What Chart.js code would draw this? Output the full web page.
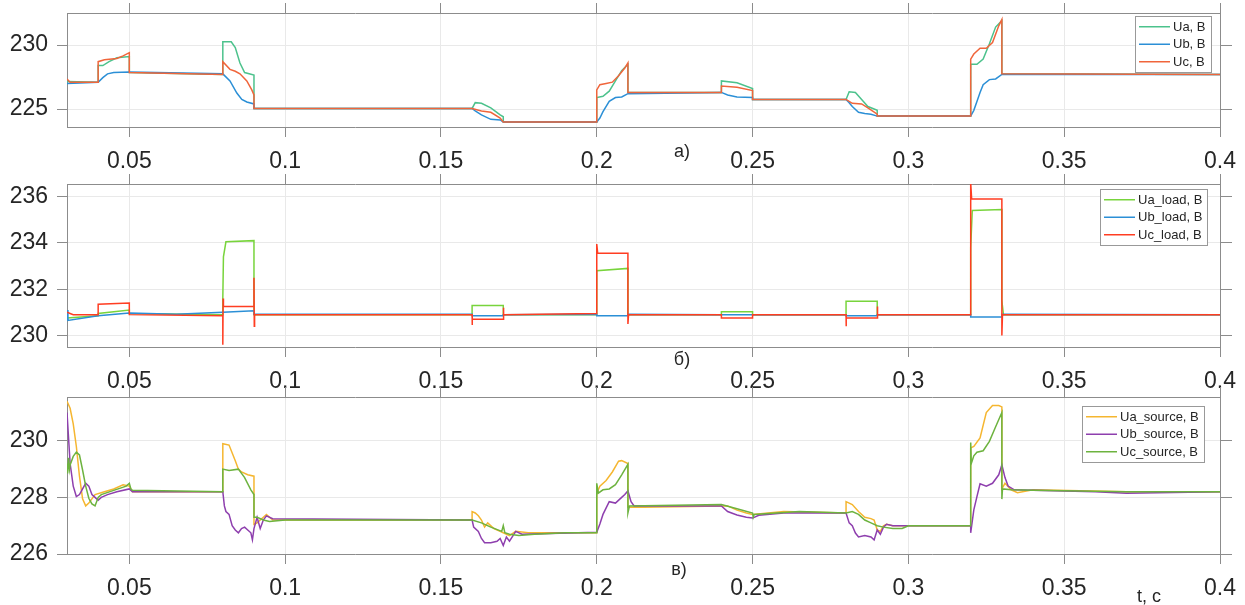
<!DOCTYPE html>
<html>
<head>
<meta charset="utf-8">
<title>Voltages</title>
<script src="https://cdn.jsdelivr.net/npm/chart.js@4/dist/chart.umd.min.js"></script>
<style>
    body { margin: 0; background: #fff; overflow: hidden; }
    .layer { position: absolute; left: 0; top: 0; }
</style>
</head>
<body>
<canvas id="panel-a" class="layer" width="1245" height="605"></canvas>
<canvas id="panel-b" class="layer" width="1245" height="605"></canvas>
<canvas id="panel-c" class="layer" width="1245" height="605"></canvas>
<script>
/**
 * Three stacked voltage panels: a) Ua/Ub/Uc, б) load, в) source
 */

// Shared time axis
const tMin = 0.03;
const tMax = 0.4;
const tStep = 0.05;

// Panel a) points as [t, value]
const uaPoints = [[0.03,227.15],[0.04,227.1],[0.04,228.4],[0.0415,228.4],[0.0435,228.7],[0.046,229.0],[0.05,229.1],[0.05,227.85],
    [0.08,227.7],[0.08,230.25],[0.0827,230.25],[0.084,229.8],[0.0855,228.6],[0.087,227.85],[0.09,227.65],[0.09,225.05],
    [0.16,225.05],[0.161,225.5],[0.163,225.45],[0.166,225.1],[0.169,224.55],[0.17,224.4],[0.17,224.0],
    [0.2,224.0],[0.2,225.9],[0.202,226.0],[0.204,226.4],[0.206,227.2],[0.208,228.0],[0.21,228.5],[0.21,226.3],
    [0.24,226.3],[0.24,227.2],[0.245,227.05],[0.25,226.6],[0.25,225.75],
    [0.28,225.75],[0.281,226.35],[0.283,226.3],[0.285,225.75],[0.287,225.2],[0.289,225.0],[0.29,224.9],[0.29,224.45],
    [0.32,224.45],[0.32,228.5],[0.322,228.5],[0.324,228.9],[0.326,230.1],[0.328,231.4],[0.33,231.9],[0.33,227.75],[0.4,227.7]];
const ubPoints = [[0.03,227.0],[0.04,227.1],[0.0415,227.45],[0.043,227.75],[0.045,227.85],[0.05,227.9],
    [0.08,227.75],[0.0823,227.2],[0.0845,226.25],[0.0861,225.75],[0.0877,225.55],[0.09,225.4],[0.09,225.05],
    [0.16,225.05],[0.161,224.85],[0.163,224.55],[0.166,224.2],[0.169,224.15],[0.17,224.0],
    [0.2,224.0],[0.201,224.3],[0.202,224.8],[0.204,225.6],[0.206,225.9],[0.208,225.95],[0.21,226.2],
    [0.24,226.3],[0.242,226.1],[0.245,225.95],[0.25,225.9],[0.25,225.75],
    [0.28,225.75],[0.281,225.5],[0.282,225.2],[0.284,224.75],[0.286,224.65],[0.288,224.6],[0.29,224.45],
    [0.32,224.45],[0.321,224.9],[0.322,225.6],[0.323,226.3],[0.324,226.9],[0.326,227.3],[0.328,227.35],[0.33,227.7],[0.4,227.7]];
const ucPoints = [[0.03,227.35],[0.031,227.1],[0.04,227.1],[0.04,228.7],[0.042,228.85],[0.046,228.95],[0.048,229.15],[0.05,229.4],[0.05,227.85],
    [0.08,227.7],[0.08,228.7],[0.0823,228.1],[0.084,227.95],[0.0855,227.75],[0.0877,227.2],[0.0893,226.5],[0.09,226.1],[0.09,225.05],
    [0.16,225.05],[0.163,224.85],[0.166,224.75],[0.169,224.3],[0.17,224.0],
    [0.2,224.0],[0.2,226.5],[0.201,226.9],[0.203,227.0],[0.205,227.1],[0.207,227.6],[0.209,228.2],[0.21,228.6],[0.21,226.3],
    [0.24,226.3],[0.24,226.8],[0.245,226.7],[0.25,226.45],[0.25,225.75],
    [0.28,225.75],[0.282,225.45],[0.285,225.4],[0.287,225.1],[0.29,224.6],[0.29,224.45],
    [0.32,224.45],[0.32,228.9],[0.321,229.3],[0.323,229.75],[0.325,229.75],[0.327,230.2],[0.329,231.5],[0.33,232.0],[0.33,227.75],[0.4,227.7]];

// Panel б) load voltages
const uaLoadPoints = [[0.03,230.75],[0.04,230.85],[0.04,230.95],[0.05,231.1],[0.05,230.95],
    [0.08,230.9],[0.08,231.6],[0.0802,233.4],[0.081,234.05],[0.09,234.1],[0.09,230.9],
    [0.16,230.9],[0.16,231.3],[0.17,231.3],[0.17,230.9],
    [0.2,230.9],[0.2,232.8],[0.21,232.9],[0.21,230.9],
    [0.24,230.9],[0.24,231.02],[0.25,231.02],[0.25,230.9],
    [0.28,230.9],[0.28,231.48],[0.29,231.48],[0.29,230.9],
    [0.32,230.9],[0.32,233.8],[0.3205,235.4],[0.33,235.45],[0.33,231.5],[0.3305,230.9],[0.4,230.9]];
const ubLoadPoints = [[0.03,231.1],[0.0303,230.65],[0.04,230.85],[0.05,230.97],[0.065,230.92],[0.08,231.0],[0.09,231.07],[0.09,230.92],
    [0.16,230.92],[0.16,230.85],[0.17,230.85],[0.17,230.9],
    [0.2,230.92],[0.2,230.85],[0.21,230.85],[0.21,230.92],
    [0.24,230.9],[0.25,230.9],[0.28,230.9],[0.28,230.85],[0.29,230.85],[0.29,230.9],
    [0.32,230.9],[0.32,230.8],[0.33,230.8],[0.33,230.92],[0.4,230.9]];
const ucLoadPoints = [[0.03,231.0],[0.031,230.95],[0.032,230.9],[0.04,230.9],[0.04,231.35],[0.05,231.4],[0.05,230.9],
    [0.08,230.85],[0.08,229.6],[0.0801,231.6],[0.0802,231.25],[0.09,231.25],[0.09,232.5],[0.0901,230.4],[0.0902,230.9],
    [0.16,230.9],[0.16,230.45],[0.1601,230.7],[0.17,230.7],[0.17,231.2],[0.1702,230.9],
    [0.2,230.95],[0.2,233.95],[0.2003,233.55],[0.21,233.55],[0.21,230.5],[0.2102,230.9],
    [0.24,230.9],[0.24,230.75],[0.25,230.75],[0.25,230.9],
    [0.28,230.9],[0.28,230.4],[0.2801,230.75],[0.29,230.75],[0.29,231.25],[0.2902,230.9],
    [0.32,230.9],[0.32,236.6],[0.3203,235.9],[0.33,235.9],[0.33,230.0],[0.3302,230.9],[0.4,230.9]];

// Panel в) source voltages
const uaSourcePoints = [[0.03,231.4],[0.031,231.15],[0.032,230.6],[0.033,229.8],[0.034,228.75],[0.035,227.95],[0.036,227.7],[0.037,227.8],
    [0.039,228.1],[0.042,228.2],[0.045,228.3],[0.048,228.45],[0.05,228.4],[0.051,228.2],
    [0.08,228.2],[0.08,229.9],[0.082,229.85],[0.084,229.3],[0.085,229.0],[0.086,228.9],[0.088,228.8],[0.09,228.75],[0.09,227.05],
    [0.091,227.1],[0.093,227.3],[0.094,227.4],[0.096,227.2],
    [0.16,227.2],[0.16,227.5],[0.161,227.45],[0.162,227.35],[0.163,227.2],[0.164,226.95],[0.165,227.1],[0.167,226.9],
    [0.169,226.8],[0.17,226.75],[0.172,226.65],[0.174,226.8],[0.178,226.75],
    [0.2,226.75],[0.2,228.15],[0.201,228.4],[0.203,228.6],[0.205,228.9],[0.207,229.28],[0.208,229.3],[0.21,229.2],[0.21,227.65],
    [0.215,227.65],[0.24,227.7],[0.242,227.7],[0.245,227.55],[0.248,227.45],[0.25,227.4],[0.26,227.5],
    [0.28,227.45],[0.28,227.85],[0.282,227.75],[0.284,227.5],[0.286,227.3],[0.288,227.25],[0.289,227.2],[0.29,226.85],
    [0.291,226.8],[0.292,227.0],[0.293,227.05],[0.295,227.0],
    [0.32,227.0],[0.32,229.75],[0.321,229.8],[0.323,230.1],[0.325,231.0],[0.327,231.25],[0.329,231.25],[0.33,231.2],[0.33,228.3],
    [0.331,228.5],[0.333,228.27],[0.335,228.17],[0.34,228.27],[0.37,228.2],[0.4,228.2]];
const ubSourcePoints = [[0.03,231.0],[0.031,229.2],[0.032,228.4],[0.033,228.03],[0.034,228.1],[0.035,228.3],[0.036,228.5],[0.037,228.4],
    [0.038,228.1],[0.039,228.0],[0.04,227.9],[0.041,228.0],[0.043,228.1],[0.046,228.2],[0.05,228.3],[0.051,228.2],
    [0.08,228.2],[0.0805,227.7],[0.081,227.5],[0.082,227.4],[0.083,227.0],[0.084,226.85],[0.085,226.75],[0.086,226.9],
    [0.087,226.95],[0.088,226.85],[0.089,226.75],[0.0895,226.5],[0.09,226.9],[0.091,227.3],[0.092,226.9],[0.093,227.2],
    [0.094,227.35],[0.096,227.25],
    [0.16,227.2],[0.1605,226.95],[0.162,226.8],[0.163,226.55],[0.164,226.4],[0.166,226.4],[0.168,226.45],[0.169,226.55],
    [0.17,226.3],[0.171,226.6],[0.172,226.45],[0.174,226.8],[0.176,226.7],
    [0.2,226.77],[0.201,227.06],[0.202,227.4],[0.204,227.85],[0.206,227.8],[0.208,228.0],[0.209,228.1],[0.21,228.23],
    [0.211,227.85],[0.212,227.7],
    [0.24,227.7],[0.242,227.5],[0.245,227.38],[0.248,227.3],[0.25,227.27],[0.252,227.37],[0.26,227.45],
    [0.28,227.45],[0.281,227.1],[0.282,227.0],[0.283,226.74],[0.284,226.6],[0.286,226.65],[0.288,226.6],[0.289,226.5],
    [0.29,226.85],[0.291,226.7],[0.292,226.95],[0.293,227.05],[0.295,227.0],
    [0.32,227.0],[0.32,226.75],[0.321,227.56],[0.322,228.03],[0.323,228.48],[0.325,228.4],[0.327,228.5],[0.329,228.8],
    [0.33,229.15],[0.331,228.7],[0.332,228.4],[0.334,228.27],[0.34,228.25],[0.36,228.2],[0.37,228.15],[0.4,228.2]];
const ucSourcePoints = [[0.03,229.2],[0.0302,228.85],[0.0305,229.4],[0.0308,229.0],[0.031,229.15],[0.032,229.45],[0.033,229.6],
    [0.034,229.5],[0.035,228.97],[0.036,228.4],[0.037,227.97],[0.038,227.77],[0.039,227.7],[0.04,228.0],[0.041,228.1],
    [0.045,228.25],[0.049,228.4],[0.05,228.5],[0.0505,228.3],[0.051,228.25],
    [0.08,228.2],[0.08,229.0],[0.082,228.95],[0.085,229.0],[0.087,228.7],[0.089,228.27],[0.09,228.1],[0.09,227.3],
    [0.091,227.3],[0.093,227.2],[0.095,227.15],[0.1,227.2],
    [0.16,227.2],[0.163,227.1],[0.166,226.95],[0.1695,226.8],[0.17,227.0],[0.1705,226.75],[0.172,226.7],[0.175,226.65],
    [0.18,226.7],[0.19,226.75],
    [0.2,226.75],[0.2,228.5],[0.2005,228.15],[0.202,228.27],[0.204,228.3],[0.206,228.45],[0.208,228.8],[0.21,229.17],
    [0.21,227.45],[0.2105,227.7],
    [0.24,227.75],[0.245,227.6],[0.25,227.45],[0.2502,227.3],[0.2505,227.4],[0.265,227.5],
    [0.28,227.45],[0.282,227.5],[0.284,227.4],[0.286,227.2],[0.288,227.1],[0.29,227.0],[0.292,226.95],[0.295,226.9],
    [0.298,226.9],[0.3,227.0],
    [0.32,227.0],[0.32,229.94],[0.3202,229.2],[0.321,229.47],[0.322,229.6],[0.324,229.65],[0.326,229.98],[0.328,230.5],
    [0.33,231.0],[0.33,227.94],[0.3302,228.3],[0.333,228.27],[0.34,228.25],[0.37,228.2],[0.4,228.2]];

const FONT = '"Liberation Sans", Arial, sans-serif';
const TEXT = '#262626';
const AXIS = '#8c8c8c';
const GRID = '#e9e9e9';

// Rebuild ticks on whole steps only (Chart.js drops the first nice tick next to a forced min)
function stepTicks(step) {
    return scale => {
        const first = Math.ceil(scale.min / step - 1e-9);
        const last = Math.floor(scale.max / step + 1e-9);
        const ticks = [];
        for (let k = first; k <= last; k++) {
            ticks.push({ value: +(k * step).toFixed(6) });
        }
        scale.ticks = ticks;
    };
}

function noPad(scale) {
    scale.paddingLeft = 0;
    scale.paddingRight = 0;
    scale.paddingTop = 0;
    scale.paddingBottom = 0;
}

/**
 * Legend box + caption drawn inside each panel
 */
const panelDecor = {
    id: 'panelDecor',
    afterDraw(chart, args, opts) {
        const ctx = chart.ctx;
        const area = chart.chartArea;
        const sets = chart.data.datasets;
        ctx.save();
        ctx.font = `13px ${FONT}`;
        const textW = Math.max(...sets.map(d => ctx.measureText(d.label).width));
        const rowH = 17.5;
        const boxW = Math.round(4 + 31 + 4 + textW + 4);
        const boxH = Math.round(rowH * sets.length + 3);
        const x0 = Math.round(area.right - opts.legendRight - boxW);
        const y0 = Math.round(area.top + opts.legendTop);
        ctx.fillStyle = '#fff';
        ctx.fillRect(x0, y0, boxW, boxH);
        ctx.strokeStyle = '#999';
        ctx.lineWidth = 1;
        ctx.strokeRect(x0 + 0.5, y0 + 0.5, boxW, boxH);
        sets.forEach((d, i) => {
            const cy = y0 + 2 + rowH * (i + 0.5);
            ctx.strokeStyle = d.borderColor;
            ctx.lineWidth = 1.5;
            ctx.beginPath();
            ctx.moveTo(x0 + 4, cy);
            ctx.lineTo(x0 + 35, cy);
            ctx.stroke();
            ctx.fillStyle = TEXT;
            ctx.textAlign = 'left';
            ctx.textBaseline = 'middle';
            ctx.fillText(d.label, x0 + 38, cy + 0.5);
        });
        // Captions under the panel
        ctx.font = `18px ${FONT}`;
        ctx.fillStyle = TEXT;
        ctx.textAlign = 'center';
        ctx.textBaseline = 'middle';
        (opts.captions || []).forEach(c => ctx.fillText(c.text, c.x, c.y));
        ctx.restore();
    }
};

function series(label, points, color, order) {
    return {
        label,
        data: points.map(p => ({ x: p[0], y: p[1] })),
        borderColor: color,
        borderWidth: 1.5,
        pointRadius: 0,
        tension: 0,
        order
    };
}

function makePanel(id, datasets, yMin, yMax, yStep, top, bottom, decor) {
    const tickFont = { family: FONT, size: 23 };
    const xTicks = {
        stepSize: tStep,
        padding: 11,
        color: TEXT,
        font: tickFont,
        maxRotation: 0,
        autoSkip: false,
        callback: v => String(+v.toFixed(2))
    };
    return new Chart(document.getElementById(id), {
        type: 'line',
        data: { datasets },
        options: {
            responsive: false,
            animation: false,
            events: [],
            layout: { padding: 0 },
            plugins: {
                legend: { display: false },
                tooltip: { enabled: false },
                panelDecor: decor
            },
            scales: {
                x: {
                    type: 'linear', position: 'bottom', min: tMin, max: tMax,
                    ticks: xTicks,
                    grid: { color: GRID, tickColor: AXIS, tickLength: 10 },
                    border: { color: AXIS },
                    afterBuildTicks: stepTicks(tStep),
                    afterFit: s => { noPad(s); s.height = 605 - bottom; }
                },
                x2: {
                    type: 'linear', position: 'top', min: tMin, max: tMax,
                    ticks: { stepSize: tStep, display: false },
                    grid: { drawOnChartArea: false, tickColor: AXIS, tickLength: 10 },
                    border: { color: AXIS },
                    afterBuildTicks: stepTicks(tStep),
                    afterFit: s => { noPad(s); s.height = top; }
                },
                y: {
                    type: 'linear', position: 'left', min: yMin, max: yMax,
                    ticks: { stepSize: yStep, padding: 9, color: TEXT, font: tickFont },
                    grid: { color: GRID, tickColor: AXIS, tickLength: 10 },
                    border: { color: AXIS },
                    afterBuildTicks: stepTicks(yStep),
                    afterFit: s => { noPad(s); s.width = 67; }
                },
                y2: {
                    type: 'linear', position: 'right', min: yMin, max: yMax,
                    ticks: { stepSize: yStep, display: false },
                    grid: { drawOnChartArea: false, tickColor: AXIS, tickLength: 12 },
                    border: { color: AXIS },
                    afterBuildTicks: stepTicks(yStep),
                    afterFit: s => { noPad(s); s.width = 25; }
                }
            }
        },
        plugins: [panelDecor]
    });
}

// Initialize on page load
document.addEventListener('DOMContentLoaded', () => {
    makePanel('panel-a', [
        series('Ua, B', uaPoints, '#4cc28c', 2),
        series('Ub, B', ubPoints, '#2b8fd6', 1),
        series('Uc, B', ucPoints, '#f0653b', 0)
    ], 223.6, 232.5, 5, 13, 127, {
        legendRight: 9, legendTop: 3,
        captions: [{ text: 'a)', x: 682, y: 152 }]
    });

    makePanel('panel-b', [
        series('Ua_load, B', uaLoadPoints, '#78d43c', 2),
        series('Ub_load, B', ubLoadPoints, '#2b8fd6', 1),
        series('Uc_load, B', ucLoadPoints, '#ff3d22', 0)
    ], 229.5, 236.55, 2, 184, 347, {
        legendRight: 13, legendTop: 5,
        captions: [{ text: 'б)', x: 682, y: 360 }]
    });

    makePanel('panel-c', [
        series('Ua_source, B', uaSourcePoints, '#f5b630', 2),
        series('Ub_source, B', ubSourcePoints, '#8e3fae', 1),
        series('Uc_source, B', ucSourcePoints, '#6db33f', 0)
    ], 226, 231.55, 2, 397, 554, {
        legendRight: 16, legendTop: 9,
        captions: [{ text: 'в)', x: 679, y: 570 }, { text: 't, c', x: 1149, y: 597 }]
    });
});
</script>
</body>
</html>
